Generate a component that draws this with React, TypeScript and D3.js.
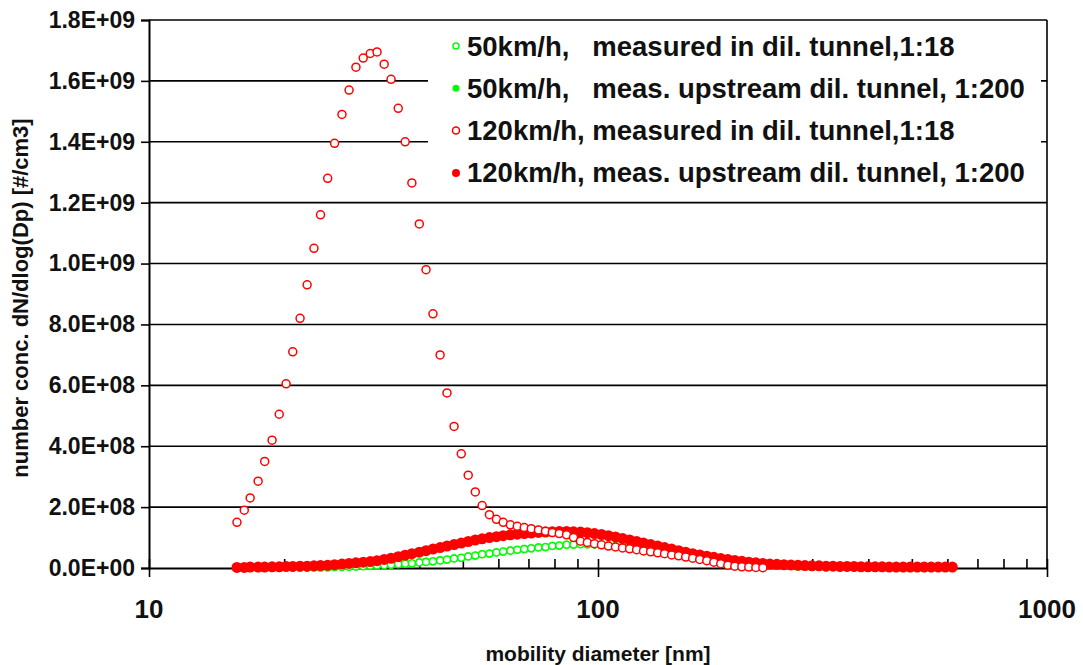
import { useEffect, useRef } from 'react';
import * as d3 from 'd3';

// mobility diameter channels [nm]
const diameters = [15.7, 16.3, 16.8, 17.5, 18.1, 18.8, 19.5, 20.2, 20.9, 21.7, 22.5, 23.3, 24.1, 25.0, 25.9, 26.9,
  27.9, 28.9, 30.0, 31.1, 32.2, 33.4, 34.6, 35.9, 37.2, 38.5, 40.0, 41.4, 42.9, 44.5, 46.1, 47.8, 49.6, 51.4, 53.3,
  55.2, 57.3, 59.4, 61.5, 63.8, 66.1, 68.5, 71.0, 73.7, 76.4, 79.1, 82.0, 85.1, 88.2, 91.4, 94.7, 98.2, 101.8, 105.5,
  109.4, 113.4, 117.6, 121.9, 126.3, 131.0, 135.8, 140.7, 145.9, 151.2, 156.8, 162.5, 168.5, 174.7, 181.1, 187.7,
  194.6, 201.7, 209.1, 216.7, 224.7, 232.9, 241.4, 250.3, 259.5, 269.0, 278.8, 289.0, 299.6, 310.6, 322.0, 333.8,
  346.0, 358.7, 371.8, 385.4, 399.5, 414.2, 429.4, 445.1, 461.4, 478.3, 495.8, 514.0, 532.8, 552.3, 572.5, 593.5,
  615.3, 637.8];

// values in 1E+08 #/cm3
const UNIT = 1e8;

const green50Tunnel = [0, 0, 0, 0, 0, 0.01, 0.01, 0.01, 0.01, 0.01, 0.01, 0.02, 0.02, 0.02, 0.03, 0.03, 0.04, 0.05,
  0.06, 0.07, 0.08, 0.09, 0.11, 0.12, 0.14, 0.16, 0.18, 0.2, 0.22, 0.25, 0.28, 0.31, 0.34, 0.38, 0.41, 0.45, 0.48,
  0.51, 0.54, 0.57, 0.6, 0.62, 0.65, 0.67, 0.69, 0.72, 0.74, 0.76, 0.77, 0.78, 0.78, 0.77, 0.76, 0.74, 0.72, 0.7,
  0.67, 0.64, 0.61, 0.58, 0.55, 0.51, 0.48, 0.45, 0.42, 0.38, 0.35, 0.32, 0.29, 0.26, 0.23, 0.21, 0.18, 0.16, 0.14,
  0.12, 0.11, 0.09, 0.08, 0.07, 0.06, 0.05, 0.04, 0.04, 0.03, 0.03, 0.02, 0.02, 0.02, 0.01, 0.01, 0.01, 0.01, 0.01,
  0, 0, 0, 0, 0, 0];

const green50Upstream = [0, 0, 0.01, 0, 0.01, 0.01, 0, 0.01, 0.02, 0.01, 0.02, 0.02, 0.01, 0.03, 0.03, 0.04, 0.04,
  0.05, 0.07, 0.06, 0.09, 0.1, 0.1, 0.13, 0.15, 0.15, 0.19, 0.21, 0.21, 0.26, 0.27, 0.32, 0.33, 0.39, 0.4, 0.46,
  0.47, 0.52, 0.53, 0.58, 0.59, 0.63, 0.64, 0.68, 0.68, 0.73, 0.73, 0.77, 0.76, 0.79, 0.77, 0.78, 0.75, 0.75, 0.71,
  0.71, 0.66, 0.65, 0.6, 0.59, 0.54, 0.52, 0.47, 0.46, 0.41, 0.39, 0.34, 0.33, 0.28, 0.27, 0.22, 0.22, 0.17, 0.17,
  0.13, 0.13, 0.1, 0.1, 0.07, 0.08, 0.05, 0.06, 0.03, 0.05, 0.02, 0.03, 0.01, 0.03, 0.01, 0.02, 0, 0.02, 0, 0.01,
  0, 0.01, 0, 0, 0.01, 0];

const red120Tunnel = [1.5, 1.9, 2.3, 2.85, 3.5, 4.2, 5.05, 6.05, 7.1, 8.2, 9.3, 10.5, 11.6, 12.8, 13.95, 14.9, 15.7,
  16.45, 16.75, 16.9, 16.95, 16.55, 16.05, 15.1, 14.0, 12.65, 11.3, 9.8, 8.35, 7.0, 5.75, 4.65, 3.75, 3.05, 2.5,
  2.05, 1.75, 1.6, 1.5, 1.42, 1.37, 1.33, 1.29, 1.25, 1.21, 1.17, 1.13, 1.09, 1.0, 0.88, 0.84, 0.8, 0.76, 0.72, 0.69,
  0.66, 0.63, 0.6, 0.56, 0.53, 0.5, 0.47, 0.43, 0.4, 0.36, 0.32, 0.28, 0.24, 0.19, 0.14, 0.09, 0.06, 0.04, 0.03,
  0.02, 0.01];

const red120Upstream = [0.02, 0.02, 0.03, 0.03, 0.03, 0.04, 0.04, 0.05, 0.05, 0.06, 0.06, 0.07, 0.08, 0.09, 0.11,
  0.13, 0.15, 0.17, 0.19, 0.21, 0.24, 0.28, 0.32, 0.37, 0.42, 0.47, 0.52, 0.57, 0.62, 0.67, 0.72, 0.77, 0.82, 0.87,
  0.92, 0.96, 1.0, 1.03, 1.06, 1.09, 1.11, 1.13, 1.15, 1.17, 1.18, 1.19, 1.2, 1.2, 1.19, 1.18, 1.16, 1.13, 1.1, 1.06,
  1.02, 0.97, 0.92, 0.87, 0.82, 0.77, 0.72, 0.67, 0.62, 0.57, 0.52, 0.47, 0.43, 0.39, 0.35, 0.31, 0.28, 0.25, 0.22,
  0.19, 0.17, 0.15, 0.13, 0.12, 0.11, 0.1, 0.09, 0.08, 0.07, 0.07, 0.06, 0.06, 0.05, 0.05, 0.05, 0.04, 0.04, 0.04,
  0.04, 0.03, 0.03, 0.03, 0.03, 0.03, 0.03, 0.03, 0.03, 0.03, 0.03];

const yTicks = [0, 2e8, 4e8, 6e8, 8e8, 1e9, 1.2e9, 1.4e9, 1.6e9, 1.8e9];
const yTickLabels = ['0.0E+00', '2.0E+08', '4.0E+08', '6.0E+08', '8.0E+08', '1.0E+09', '1.2E+09', '1.4E+09',
  '1.6E+09', '1.8E+09'];
const xLabelTicks = [10, 100, 1000];

const legendLabels = [
  '50km/h,   measured in dil. tunnel,1:18',
  '50km/h,   meas. upstream dil. tunnel, 1:200',
  '120km/h, measured in dil. tunnel,1:18',
  '120km/h, meas. upstream dil. tunnel, 1:200',
];

const FONT = '"Liberation Sans", Arial, sans-serif';
const GREEN = '#00ff00';
const RED = '#ff0000';

const App = () => {
  const svgRef = useRef<SVGSVGElement>(null);

  useEffect(() => {
    const W = 1083, H = 665;
    const margin = { top: 20, right: 36, bottom: 97, left: 149 };
    const svg = d3.select(svgRef.current).attr('width', W).attr('height', H);
    svg.selectAll('*').remove();

    const x = d3.scaleLog().domain([10, 1000]).range([margin.left, W - margin.right]);
    const y = d3.scaleLinear().domain([0, 1.8e9]).range([H - margin.bottom, margin.top]);
    const x0 = x.range()[0], x1 = x.range()[1];
    const y0 = y(0);

    // horizontal grid lines
    svg.append('g').selectAll('line').data(yTicks.slice(1)).enter().append('line')
      .attr('x1', x0).attr('x2', x1)
      .attr('y1', d => y(d)).attr('y2', d => y(d))
      .attr('stroke', '#000').attr('stroke-width', 1.6);

    // right frame
    svg.append('line').attr('x1', x1).attr('x2', x1).attr('y1', y(1.8e9)).attr('y2', y0)
      .attr('stroke', '#000').attr('stroke-width', 1.6);

    // y axis
    const yAxis = svg.append('g').attr('transform', `translate(${x0},0)`)
      .call(d3.axisLeft(y).tickValues(yTicks).tickSize(8).tickPadding(6)
        .tickFormat((d, i) => yTickLabels[i]));
    yAxis.select('.domain').attr('stroke-width', 2);
    yAxis.selectAll('.tick line').attr('stroke-width', 1.6);
    yAxis.selectAll('text').style('font-family', FONT).style('font-size', '23px')
      .style('font-weight', 'bold').attr('fill', '#111');

    // x axis
    const xAxis = svg.append('g').attr('transform', `translate(0,${y0})`)
      .call(d3.axisBottom(x).tickSizeOuter(0).tickSizeInner(0).tickFormat(() => ''));
    xAxis.select('.domain').attr('stroke-width', 2);
    xAxis.selectAll('.tick line').each(function (d: any) {
      const major = xLabelTicks.includes(d);
      d3.select(this).attr('y1', major ? 9 : 0).attr('y2', -9).attr('stroke-width', 1.6);
    });
    svg.append('g').selectAll('text').data(xLabelTicks).enter().append('text')
      .attr('x', d => x(d)).attr('y', y0 + 50).attr('text-anchor', 'middle')
      .style('font-family', FONT).style('font-size', '26px').style('font-weight', 'bold').attr('fill', '#111')
      .text(d => String(d));

    // series
    const pts = (vals: number[]) => vals.map((v, i) => ({ d: diameters[i], v: v * UNIT }));

    const drawSeries = (vals: number[], r: number, color: string, open: boolean) => {
      svg.append('g').selectAll('circle').data(pts(vals)).enter().append('circle')
        .attr('cx', p => x(p.d)).attr('cy', p => y(p.v)).attr('r', r)
        .attr('fill', open ? '#fff' : color)
        .attr('stroke', color).attr('stroke-width', open ? 1.5 : 0);
    };
    drawSeries(green50Upstream, 4, GREEN, false);
    drawSeries(green50Tunnel, 3.5, GREEN, true);
    drawSeries(red120Upstream, 5.5, RED, false);
    drawSeries(red120Tunnel, 4, RED, true);

    // legend
    const lg = svg.append('g');
    lg.append('rect').attr('x', 428).attr('y', 24).attr('width', 613).attr('height', 172).attr('fill', '#fff');
    const markers = [
      { color: GREEN, open: true, r: 3 },
      { color: GREEN, open: false, r: 3.5 },
      { color: RED, open: true, r: 3.5 },
      { color: RED, open: false, r: 4 },
    ];
    legendLabels.forEach((label, i) => {
      const cy = 46 + i * 42.3;
      const m = markers[i];
      lg.append('circle').attr('cx', 456).attr('cy', cy).attr('r', m.r)
        .attr('fill', m.open ? '#fff' : m.color).attr('stroke', m.color).attr('stroke-width', m.open ? 1.5 : 0);
      lg.append('text').attr('x', 467).attr('y', cy + 9.5).attr('xml:space', 'preserve')
        .style('white-space', 'pre')
        .style('font-family', FONT).style('font-size', '27.5px').style('font-weight', 'bold').attr('fill', '#111')
        .text(label);
    });

    // axis titles
    svg.append('text').attr('x', (x0 + x1) / 2).attr('y', 661).attr('text-anchor', 'middle')
      .style('font-family', FONT).style('font-size', '21px').style('font-weight', 'bold').attr('fill', '#111')
      .text('mobility diameter [nm]');
    svg.append('text').attr('transform', `translate(28,${(y(1.8e9) + y0) / 2 + 4}) rotate(-90)`)
      .attr('text-anchor', 'middle')
      .style('font-family', FONT).style('font-size', '22px').style('font-weight', 'bold').attr('fill', '#111')
      .text('number conc. dN/dlog(Dp) [#/cm3]');
  }, []);

  return (
    <svg ref={svgRef} style={{ position: 'absolute', left: 0, top: 0, display: 'block', background: '#fff' }} />
  );
};

export default App;
